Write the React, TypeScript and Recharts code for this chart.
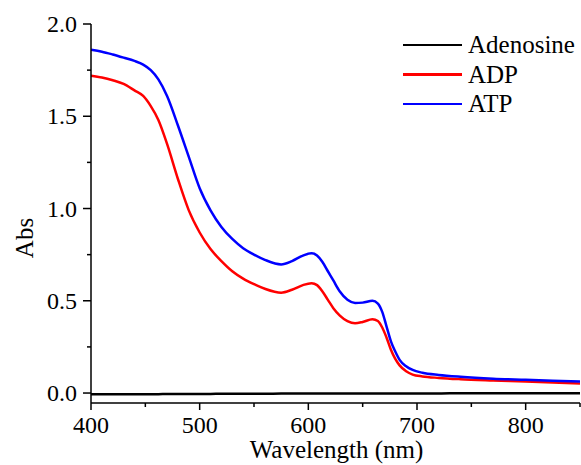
import { LineChart, Line, XAxis, YAxis, Legend } from "recharts";

const wavelengths = [400, 410, 420, 430, 440, 448, 455, 462, 470, 480, 490, 500, 510, 520, 530, 540, 550, 560, 575, 585, 595, 603, 608, 613, 618, 623, 629, 636, 643, 650, 659, 664, 668, 672, 676, 680, 684, 690, 696, 705, 720, 740, 770, 800, 850];
const atp = [1.86, 1.85, 1.835, 1.818, 1.8, 1.78, 1.75, 1.7, 1.61, 1.45, 1.28, 1.11, 0.99, 0.9, 0.835, 0.785, 0.75, 0.722, 0.697, 0.715, 0.745, 0.757, 0.745, 0.71, 0.66, 0.61, 0.55, 0.505, 0.488, 0.49, 0.5, 0.485, 0.44, 0.36, 0.28, 0.225, 0.18, 0.145, 0.125, 0.11, 0.098, 0.088, 0.078, 0.072, 0.062];
const adp = [1.72, 1.71, 1.695, 1.675, 1.64, 1.61, 1.555, 1.48, 1.35, 1.16, 0.99, 0.87, 0.78, 0.715, 0.66, 0.62, 0.59, 0.565, 0.544, 0.56, 0.585, 0.595, 0.585, 0.55, 0.505, 0.46, 0.42, 0.39, 0.378, 0.385, 0.4, 0.39, 0.355, 0.3, 0.235, 0.185, 0.15, 0.118, 0.1, 0.09, 0.082, 0.075, 0.068, 0.062, 0.052];
const adenosine = [-0.007, -0.007, -0.007, -0.006, -0.006, -0.006, -0.006, -0.006, -0.005, -0.005, -0.005, -0.005, -0.005, -0.004, -0.004, -0.004, -0.004, -0.004, -0.003, -0.003, -0.003, -0.003, -0.003, -0.003, -0.003, -0.003, -0.003, -0.003, -0.003, -0.002, -0.002, -0.002, -0.002, -0.002, -0.002, -0.002, -0.002, -0.002, -0.002, -0.002, -0.002, -0.001, -0.001, -0.001, -0.001];

const xTicks = [400, 450, 500, 550, 600, 650, 700, 750, 800, 850];
const yTicks = [0, 0.25, 0.5, 0.75, 1, 1.25, 1.5, 1.75, 2];

const series = [
  { key: "adenosine", name: "Adenosine", color: "#000000" },
  { key: "adp", name: "ADP", color: "#ff0000" },
  { key: "atp", name: "ATP", color: "#0000ff" },
];

const data = wavelengths.map((wl, i) => ({
  wl,
  adenosine: adenosine[i],
  adp: adp[i],
  atp: atp[i],
}));

const FONT = '"Liberation Serif", "Times New Roman", serif';

const XTick = ({ x, y, payload }: any) => {
  const major = payload.value % 100 === 0;
  return (
    <g>
      <line x1={x} x2={x} y1={y} y2={y + (major ? 7 : 4)} stroke="#000" strokeWidth={1.5} />
      {major && (
        <text x={x} y={y + 30} textAnchor="middle" fontSize={24} style={{ fontFamily: FONT }} fill="#000">
          {payload.value}
        </text>
      )}
    </g>
  );
};

const YTick = ({ x, y, payload }: any) => {
  const major = Math.abs((payload.value * 2) % 1) < 1e-6;
  return (
    <g>
      <line x1={x - (major ? 8 : 4)} x2={x} y1={y} y2={y} stroke="#000" strokeWidth={1.5} />
      {major && (
        <text x={x - 14} y={y + 8} textAnchor="end" fontSize={24} style={{ fontFamily: FONT }} fill="#000">
          {payload.value.toFixed(1)}
        </text>
      )}
    </g>
  );
};

const LegendContent = () => (
  <div style={{ fontFamily: FONT, fontSize: 25, lineHeight: "29.5px", color: "#000" }}>
    {series.map((s) => (
      <div key={s.key} style={{ display: "flex", alignItems: "center", whiteSpace: "nowrap" }}>
        <span style={{ display: "inline-block", width: 59, height: 2.5, background: s.color, marginRight: 6 }} />
        {s.name}
      </div>
    ))}
  </div>
);

export default function App() {
  return (
    <div style={{ position: "absolute", left: 0, top: 0, background: "#fff" }}>
      <LineChart width={581} height={465} data={data} margin={{ top: 24, right: 1, left: 0, bottom: 0 }}>
        <XAxis
          dataKey="wl"
          type="number"
          domain={[400, 850]}
          ticks={xTicks}
          interval={0}
          allowDataOverflow
          height={62}
          tickSize={0}
          tickMargin={0}
          tick={<XTick />}
          axisLine={{ stroke: "#000", strokeWidth: 1.5 }}
          label={{
            content: () => (
              <text x={336.5} y={458} textAnchor="middle" fontSize={25} style={{ fontFamily: FONT }} fill="#000">
                Wavelength (nm)
              </text>
            ),
          }}
        />
        <XAxis
          xAxisId="top"
          dataKey="wl"
          type="number"
          orientation="top"
          domain={[400, 850]}
          height={0}
          tick={false}
          tickLine={false}
          axisLine={{ stroke: "#000", strokeWidth: 1.5 }}
        />
        <YAxis
          type="number"
          domain={[-0.054, 2]}
          ticks={yTicks}
          interval={0}
          allowDataOverflow
          width={91}
          tickSize={0}
          tickMargin={0}
          tick={<YTick />}
          axisLine={{ stroke: "#000", strokeWidth: 1.5 }}
          label={{
            content: () => (
              <text
                x={33}
                y={238}
                textAnchor="middle"
                fontSize={25}
                style={{ fontFamily: FONT }}
                fill="#000"
                transform="rotate(-90, 33, 238)"
              >
                Abs
              </text>
            ),
          }}
        />
        <YAxis
          yAxisId="right"
          orientation="right"
          width={0}
          tick={false}
          tickLine={false}
          axisLine={{ stroke: "#000", strokeWidth: 1.5 }}
        />
        <Legend
          layout="vertical"
          align="center"
          verticalAlign="middle"
          content={<LegendContent />}
          wrapperStyle={{ left: 403, top: 30, width: "auto" }}
        />
        {series.map((s) => (
          <Line
            key={s.key}
            dataKey={s.key}
            name={s.name}
            type="monotone"
            stroke={s.color}
            strokeWidth={2.5}
            dot={false}
            isAnimationActive={false}
          />
        ))}
      </LineChart>
    </div>
  );
}
